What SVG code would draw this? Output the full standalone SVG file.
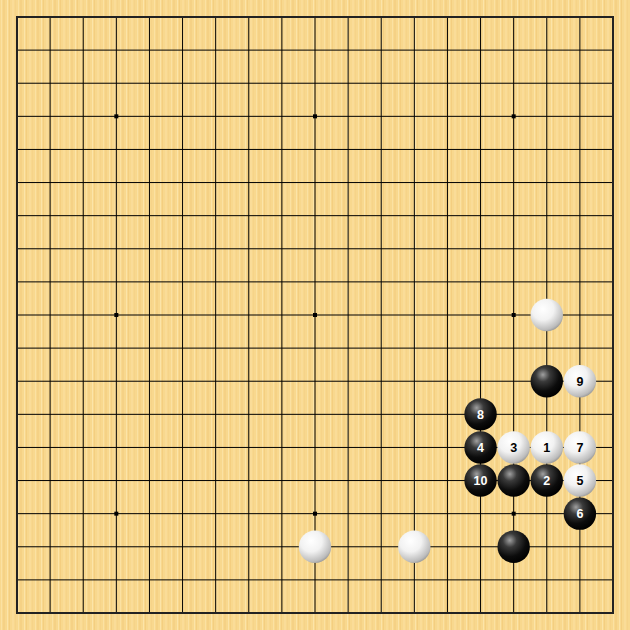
<svg xmlns="http://www.w3.org/2000/svg" width="630" height="630" viewBox="0 0 630 630">
<defs>
<pattern id="wood" patternUnits="userSpaceOnUse" width="17" height="630">
<rect width="17" height="630" fill="#F8D88E"/>
<rect x="1" width="1" height="630" fill="#FBE1A2"/>
<rect x="3" width="2" height="630" fill="#F5D185"/>
<rect x="7" width="1" height="630" fill="#FCE4A8"/>
<rect x="9" width="1" height="630" fill="#F4CE80"/>
<rect x="12" width="2" height="630" fill="#FADC98"/>
<rect x="15" width="1" height="630" fill="#F6D389"/>
</pattern>
<radialGradient id="wg" cx="0.38" cy="0.32" r="0.75">
<stop offset="0" stop-color="#ffffff"/>
<stop offset="0.45" stop-color="#f2f2f2"/>
<stop offset="0.85" stop-color="#bcbcbc"/>
<stop offset="1" stop-color="#8a8a8a"/>
</radialGradient>
<radialGradient id="bg" cx="0.38" cy="0.3" r="0.72">
<stop offset="0" stop-color="#a0a0a0"/>
<stop offset="0.3" stop-color="#3a3a3a"/>
<stop offset="0.7" stop-color="#0c0c0c"/>
<stop offset="1" stop-color="#000000"/>
</radialGradient>
<circle id="ws" r="16.2" fill="url(#wg)"/>
<circle id="bs" r="16.2" fill="url(#bg)"/>
</defs>
<style>
.grid{stroke:#000;stroke-width:1;fill:none}
.border{stroke:#222;stroke-width:2;fill:none}
.star{fill:#000}
.lb{font-family:"Liberation Sans",Arial,sans-serif;font-size:12.5px;font-weight:bold;text-anchor:middle}
.onb{fill:#ffffff}
.onw{fill:#000000}
</style>
<rect width="630" height="630" fill="url(#wood)"/>
<g id="grid">
<path class="grid" d="M17 50.11H613M17 83.22H613M17 116.33H613M17 149.44H613M17 182.56H613M17 215.67H613M17 248.78H613M17 281.89H613M17 315H613M17 348.11H613M17 381.22H613M17 414.33H613M17 447.44H613M17 480.56H613M17 513.67H613M17 546.78H613M17 579.89H613"/>
<path class="grid" d="M50.11 17V613M83.22 17V613M116.33 17V613M149.44 17V613M182.56 17V613M215.67 17V613M248.78 17V613M281.89 17V613M315 17V613M348.11 17V613M381.22 17V613M414.33 17V613M447.44 17V613M480.56 17V613M513.67 17V613M546.78 17V613M579.89 17V613"/>
<rect class="border" x="17" y="17" width="596" height="596"/>
<rect class="star" x="114.33" y="114.33" width="4" height="4"/>
<rect class="star" x="313" y="114.33" width="4" height="4"/>
<rect class="star" x="511.67" y="114.33" width="4" height="4"/>
<rect class="star" x="114.33" y="313" width="4" height="4"/>
<rect class="star" x="313" y="313" width="4" height="4"/>
<rect class="star" x="511.67" y="313" width="4" height="4"/>
<rect class="star" x="114.33" y="511.67" width="4" height="4"/>
<rect class="star" x="313" y="511.67" width="4" height="4"/>
<rect class="star" x="511.67" y="511.67" width="4" height="4"/>
</g>
<g id="stones">
<g id="w-q10" transform="translate(546.78,315)"><use href="#ws"/></g>
<g id="b-q8" transform="translate(546.78,381.22)"><use href="#bs"/></g>
<g id="w9" transform="translate(579.89,381.22)"><use href="#ws"/><text class="lb onw" y="4.5">9</text></g>
<g id="b8" transform="translate(480.56,414.33)"><use href="#bs"/><text class="lb onb" y="4.5">8</text></g>
<g id="b4" transform="translate(480.56,447.44)"><use href="#bs"/><text class="lb onb" y="4.5">4</text></g>
<g id="w3" transform="translate(513.67,447.44)"><use href="#ws"/><text class="lb onw" y="4.5">3</text></g>
<g id="w1" transform="translate(546.78,447.44)"><use href="#ws"/><text class="lb onw" y="4.5">1</text></g>
<g id="w7" transform="translate(579.89,447.44)"><use href="#ws"/><text class="lb onw" y="4.5">7</text></g>
<g id="b10" transform="translate(480.56,480.56)"><use href="#bs"/><text class="lb onb" y="4.5">10</text></g>
<g id="b-p6" transform="translate(513.67,480.56)"><use href="#bs"/></g>
<g id="b2" transform="translate(546.78,480.56)"><use href="#bs"/><text class="lb onb" y="4.5">2</text></g>
<g id="w5" transform="translate(579.89,480.56)"><use href="#ws"/><text class="lb onw" y="4.5">5</text></g>
<g id="b6" transform="translate(579.89,513.67)"><use href="#bs"/><text class="lb onb" y="4.5">6</text></g>
<g id="w-k3" transform="translate(315,546.78)"><use href="#ws"/></g>
<g id="w-n3" transform="translate(414.33,546.78)"><use href="#ws"/></g>
<g id="b-p3" transform="translate(513.67,546.78)"><use href="#bs"/></g>
</g>
</svg>
